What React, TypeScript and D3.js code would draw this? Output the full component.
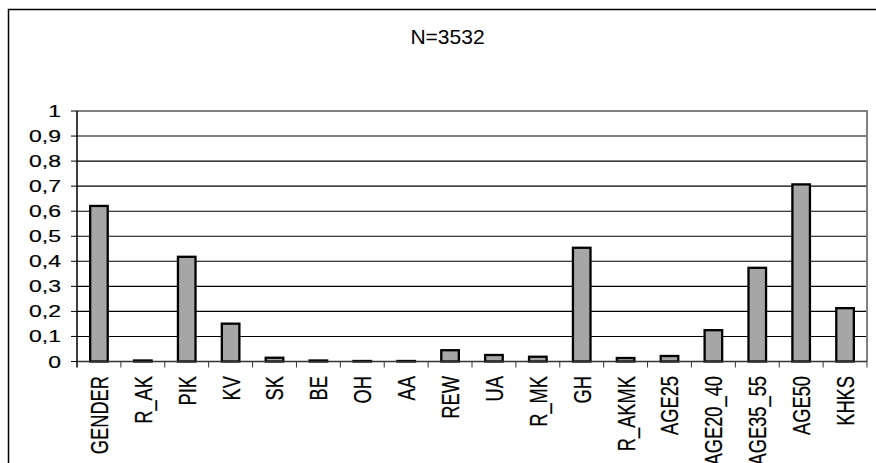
import React from "react";
import * as d3 from "d3";

const categories = [
  "GENDER", "R_AK", "PIK", "KV", "SK", "BE", "OH", "AA", "REW",
  "UA", "R_MK", "GH", "R_AKMK", "AGE25", "AGE20_40", "AGE35_55", "AGE50", "KHKS",
];
const values = [
  0.621, 0.004, 0.418, 0.151, 0.015, 0.004, 0.002, 0.002, 0.045,
  0.026, 0.019, 0.454, 0.014, 0.022, 0.125, 0.374, 0.707, 0.213,
];
const yTicks = [0, 0.1, 0.2, 0.3, 0.4, 0.5, 0.6, 0.7, 0.8, 0.9, 1];
const title = "N=3532";

const W = 876;
const H = 463;
const FONT = "'Liberation Sans', Arial, sans-serif";
const SX = 1.35; // horizontal stretch of the axis lettering

export default function App() {
  const left = 77;
  const right = 867;
  const top = 111;
  const bottom = 361.5;

  const x = d3.scaleBand<string>().domain(categories).range([left, right]).padding(0);
  const y = d3.scaleLinear().domain([0, 1]).range([bottom, top]);
  const bw = x.bandwidth();
  const barW = bw * 0.4;
  const fmt = (v: number) => (v === 0 || v === 1 ? String(v) : d3.format(".1f")(v).replace(".", ","));

  return (
    <svg
      width={W}
      height={H}
      style={{ position: "absolute", left: 0, top: 0, background: "#fff" }}
      fontFamily={FONT}
    >
      {/* chart frame */}
      <rect x={8.5} y={9.5} width={W + 20} height={H + 20} fill="#fff" stroke="#000" strokeWidth={1.5} />

      <text x={447.5} y={44} fontSize={21} textAnchor="middle" fill="#000">
        {title}
      </text>

      {/* gridlines */}
      {yTicks.filter((t) => t > 0 && t < 1).map((t) => (
        <line key={t} x1={left} x2={right} y1={y(t)} y2={y(t)} stroke="#000" strokeWidth={1.1} />
      ))}

      {/* plot area border */}
      <path
        d={`M${left},${y(1)} H${right} V${bottom}`}
        fill="none"
        stroke="#808080"
        strokeWidth={2}
      />

      {/* bars */}
      {categories.map((c, i) => {
        const cx = (x(c) as number) + bw / 2;
        return (
          <rect
            key={c}
            x={cx - barW / 2}
            y={y(values[i])}
            width={barW}
            height={bottom - y(values[i])}
            fill="#a6a6a6"
            stroke="#000"
            strokeWidth={2.3}
          />
        );
      })}

      {/* y axis */}
      <line x1={left} x2={left} y1={y(1)} y2={bottom + 6} stroke="#000" strokeWidth={1.5} />
      {yTicks.map((t) => (
        <g key={t}>
          <line x1={left - 6} x2={left} y1={y(t)} y2={y(t)} stroke="#000" strokeWidth={1} />
          <text
            transform={`translate(61,${y(t) + 6}) scale(${SX},1)`}
            fontSize={17}
            textAnchor="end"
            fill="#000"
            stroke="#000"
            strokeWidth={0.2}
          >
            {fmt(t)}
          </text>
        </g>
      ))}

      {/* x axis */}
      <line x1={left} x2={right} y1={bottom} y2={bottom} stroke="#333" strokeWidth={1.5} />
      {categories.map((c) => (
        <line
          key={"t" + c}
          x1={(x(c) as number) + bw}
          x2={(x(c) as number) + bw}
          y1={bottom}
          y2={bottom + 6}
          stroke="#333"
          strokeWidth={1}
        />
      ))}
      {categories.map((c) => {
        const cx = (x(c) as number) + bw / 2;
        const fs = 18.3;
        return (
          <text
            key={"l" + c}
            transform={`translate(${cx + 0.36 * fs * SX},376) scale(${SX},1) rotate(-90)`}
            fontSize={fs}
            textAnchor="end"
            fill="#000"
            stroke="#000"
            strokeWidth={0.2}
          >
            {c}
          </text>
        );
      })}
    </svg>
  );
}
